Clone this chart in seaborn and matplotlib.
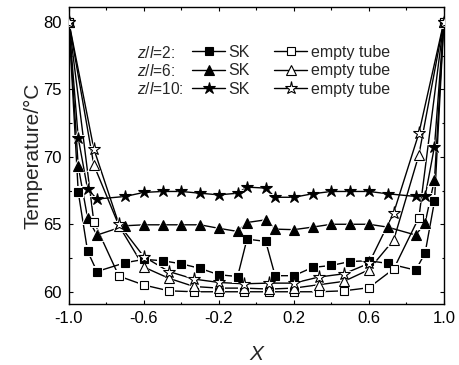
import matplotlib
matplotlib.use("Agg")
import matplotlib.pyplot as plt
from matplotlib.lines import Line2D
import seaborn as sns
import pandas as pd

# ---- data ----
x_sk = [-1.0, -0.95, -0.9, -0.85, -0.7, -0.6, -0.5, -0.4, -0.3, -0.2, -0.1, -0.05,
        0.05, 0.1, 0.2, 0.3, 0.4, 0.5, 0.6, 0.7, 0.85, 0.9, 0.95, 1.0]
sk_2 = [80, 67.4, 63.0, 61.5, 62.15, 62.4, 62.3, 62.07, 61.73, 61.26, 61.13, 63.9,
        63.73, 61.19, 61.19, 61.8, 61.95, 62.24, 62.3, 62.1, 61.6, 62.87, 66.7, 80]
sk_6 = [80, 69.3, 65.46, 64.2, 64.89, 64.96, 64.96, 64.96, 64.96, 64.7, 64.47, 65.13,
        65.33, 64.64, 64.6, 64.79, 65.0, 65.0, 65.0, 64.79, 64.2, 65.1, 68.3, 80]
sk_10 = [80, 71.4, 67.6, 66.87, 67.06, 67.36, 67.43, 67.43, 67.3, 67.18, 67.3, 67.75,
         67.68, 67.0, 67.0, 67.26, 67.43, 67.43, 67.43, 67.26, 67.06, 67.06, 70.76, 80]

x_et = [-1.0, -0.867, -0.733, -0.6, -0.467, -0.333, -0.2, -0.067,
        0.067, 0.2, 0.333, 0.467, 0.6, 0.733, 0.867, 1.0]
et_2 = [80, 65.2, 61.16, 60.5, 60.07, 60.0, 60.0, 60.0, 60.0, 60.0, 60.0, 60.07, 60.3, 61.7, 65.5, 80]
et_6 = [80, 69.4, 64.9, 61.83, 61.0, 60.39, 60.27, 60.27, 60.2, 60.27, 60.52, 60.77, 61.63, 63.85, 70.15, 80]
et_10 = [80, 70.6, 65.0, 62.6, 61.5, 60.94, 60.69, 60.59, 60.64, 60.64, 61.09, 61.33, 62.1, 65.87, 71.75, 80]

group_labels = ["$z$/$l$=2:", "$z$/$l$=6:", "$z$/$l$=10:"]
sk_label = "SK"
et_label = "empty tube"
x_ticks = [-1.0, -0.6, -0.2, 0.2, 0.6, 1.0]
y_ticks = [60, 65, 70, 75, 80]

# ---- style ----
sns.set_style("ticks")
plt.rcParams["font.family"] = ["Liberation Sans", "DejaVu Sans"]
plt.rcParams["mathtext.fontset"] = "custom"
plt.rcParams["mathtext.it"] = "Liberation Sans:italic"
plt.rcParams["mathtext.rm"] = "Liberation Sans"

fig = plt.figure(figsize=(4.59, 3.65), dpi=100)
ax = fig.add_axes([0.150, 0.167, 0.817, 0.814])

series = [
    (x_sk, sk_2, "s", 5.6, "black"),
    (x_sk, sk_6, "^", 6.8, "black"),
    (x_sk, sk_10, "*", 9.0, "black"),
    (x_et, et_2, "s", 5.6, "white"),
    (x_et, et_6, "^", 7.2, "white"),
    (x_et, et_10, "*", 9.5, "white"),
]

lw = 1.0
for xs, ys, mk, ms, fc in series:
    df = pd.DataFrame({"x": xs, "y": ys})
    sns.lineplot(data=df, x="x", y="y", ax=ax, color="black", lw=lw,
                 sort=False, estimator=None, zorder=2)
for xs, ys, mk, ms, fc in series:
    df = pd.DataFrame({"x": xs, "y": ys})
    sns.lineplot(data=df, x="x", y="y", ax=ax, linestyle="none", marker=mk,
                 markersize=ms + 2.8, markerfacecolor="white", markeredgecolor="white",
                 markeredgewidth=0, sort=False, estimator=None, zorder=2.5)
for xs, ys, mk, ms, fc in series:
    df = pd.DataFrame({"x": xs, "y": ys})
    sns.lineplot(data=df, x="x", y="y", ax=ax, linestyle="none", marker=mk,
                 markersize=ms, markerfacecolor=fc, markeredgecolor="black",
                 markeredgewidth=0.8, sort=False, estimator=None, zorder=3)

ax.set_xlim(-1.0, 1.0)
ax.set_ylim(59.09, 81.1)
ax.set_xticks(x_ticks)
ax.set_xticklabels([f"{t:.1f}" for t in x_ticks])
ax.set_yticks(y_ticks)
ax.set_xticks([-0.8, -0.4, 0.0, 0.4, 0.8], minor=True)
ax.set_yticks([62.5, 67.5, 72.5, 77.5], minor=True)
ax.tick_params(which="both", direction="in", top=True, right=True, width=0.8,
               labelsize=12, color="black", labelcolor="black")
ax.tick_params(which="major", length=3.2, pad=5)
ax.tick_params(which="minor", length=1.8)
for sp in ax.spines.values():
    sp.set_linewidth(1.0)
    sp.set_color("black")

ax.set_xlabel("X", fontsize=15, style="italic", labelpad=14)
ax.set_ylabel("Temperature/\u00b0C", fontsize=15, labelpad=1)

# legend
handles = []
for xs, ys, mk, ms, fc in series:
    handles.append(Line2D([], [], color="black", lw=lw, marker=mk, markersize=ms,
                          markerfacecolor=fc, markeredgecolor="black", markeredgewidth=0.8))
labels = [sk_label] * 3 + [et_label] * 3
leg = ax.legend(handles, labels, ncol=2, frameon=False, fontsize=11.5,
                loc="upper left", bbox_to_anchor=(0.328, 0.873), borderpad=0,
                borderaxespad=0, handlelength=2.1, handletextpad=0.2,
                labelspacing=0.22, columnspacing=1.5, numpoints=1)

row_y = [0.846, 0.785, 0.724]
for lab, yy in zip(group_labels, row_y):
    ax.text(0.181, yy, lab, transform=ax.transAxes, fontsize=11.2,
            ha="left", va="center")

fig.savefig("out.png", dpi=100)
